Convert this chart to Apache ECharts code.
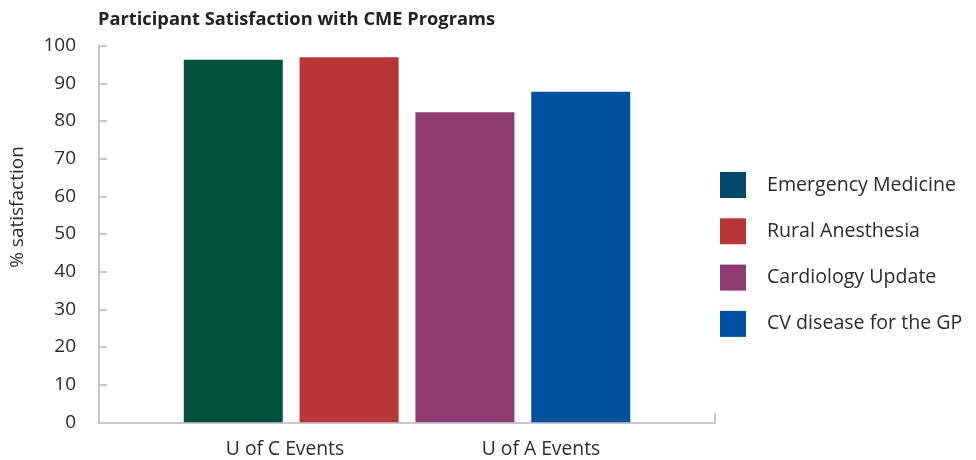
<!DOCTYPE html>
<html>
<head>
<meta charset="utf-8">
<title>Participant Satisfaction with CME Programs</title>
<script src="https://cdn.jsdelivr.net/npm/echarts@6/dist/echarts.min.js"></script>
<style>
  html, body { margin: 0; padding: 0; background: #ffffff; }
  #chart { width: 976px; height: 460px; }
</style>
</head>
<body>
<div id="chart"></div>
<script>
// Programs, in drawing order
const programs = ['Emergency Medicine', 'Rural Anesthesia', 'Cardiology Update', 'CV disease for the GP'];
// % satisfaction per program
const satisfaction = [96.3, 96.9, 82.3, 87.8];
// Group captions shown under the bars
const groups = ['U of C Events', 'U of A Events'];
// Bar fills and legend swatches
const barColors = ['#03513b', '#b83538', '#8e3b73', '#00519e'];
const legendColors = ['#03476b', '#b83538', '#8e3b73', '#00519e'];

const FONT = '"Open Sans", sans-serif';
const AXIS_GREY = '#c8c8cc';
const TEXT = '#2b2b2b';

const chart = echarts.init(document.getElementById('chart'), null, { renderer: 'canvas' });

const series = programs.map((name, i) => ({
  name: name,
  type: 'bar',
  xAxisIndex: 0,
  yAxisIndex: 0,
  barWidth: 99,
  barGap: '17%',
  itemStyle: { color: legendColors[i] },
  data: [{ value: satisfaction[i], itemStyle: { color: barColors[i] } }]
}));

chart.setOption({
  animation: false,
  backgroundColor: '#ffffff',
  title: {
    text: 'Participant Satisfaction with CME Programs',
    left: 93,
    top: 6,
    textStyle: { fontFamily: FONT, fontWeight: 'bold', fontSize: 18.3, color: '#222222' }
  },
  legend: {
    orient: 'vertical',
    left: 720,
    top: 172,
    padding: 0,
    itemWidth: 26,
    itemHeight: 26,
    itemGap: 20.3,
    icon: 'rect',
    data: programs,
    textStyle: { fontFamily: FONT, fontSize: 19.6, color: TEXT, padding: [0, 0, 0, 16] }
  },
  grid: [
    { left: 99, right: 261, top: 45.7, bottom: 37.7 },
    { left: 157, right: 307, top: 45.7, bottom: 37.7 }
  ],
  xAxis: [
    {
      type: 'category',
      gridIndex: 0,
      data: [''],
      axisLine: { lineStyle: { color: AXIS_GREY, width: 2 } },
      axisTick: { show: true, inside: true, length: 9, lineStyle: { color: AXIS_GREY, width: 2 } },
      axisLabel: { show: false }
    },
    {
      type: 'category',
      gridIndex: 1,
      data: groups,
      axisLine: { show: false },
      axisTick: { show: false },
      axisLabel: { margin: 18, fontFamily: FONT, fontSize: 19.3, color: TEXT }
    }
  ],
  yAxis: [
    {
      type: 'value',
      gridIndex: 0,
      min: 0,
      max: 100,
      interval: 10,
      name: '% satisfaction',
      nameLocation: 'middle',
      nameRotate: 90,
      nameGap: 72,
      nameTextStyle: { fontFamily: FONT, fontSize: 19, color: TEXT, padding: [0, 0, 0, 54] },
      axisLine: { show: true, lineStyle: { color: AXIS_GREY, width: 2 } },
      axisTick: { show: true, inside: true, length: 8, lineStyle: { color: AXIS_GREY, width: 2 } },
      splitLine: { show: false },
      axisLabel: { margin: 23, fontFamily: FONT, fontSize: 19, color: TEXT }
    },
    {
      type: 'value',
      gridIndex: 1,
      show: false
    }
  ],
  series: series
});
</script>
</body>
</html>
